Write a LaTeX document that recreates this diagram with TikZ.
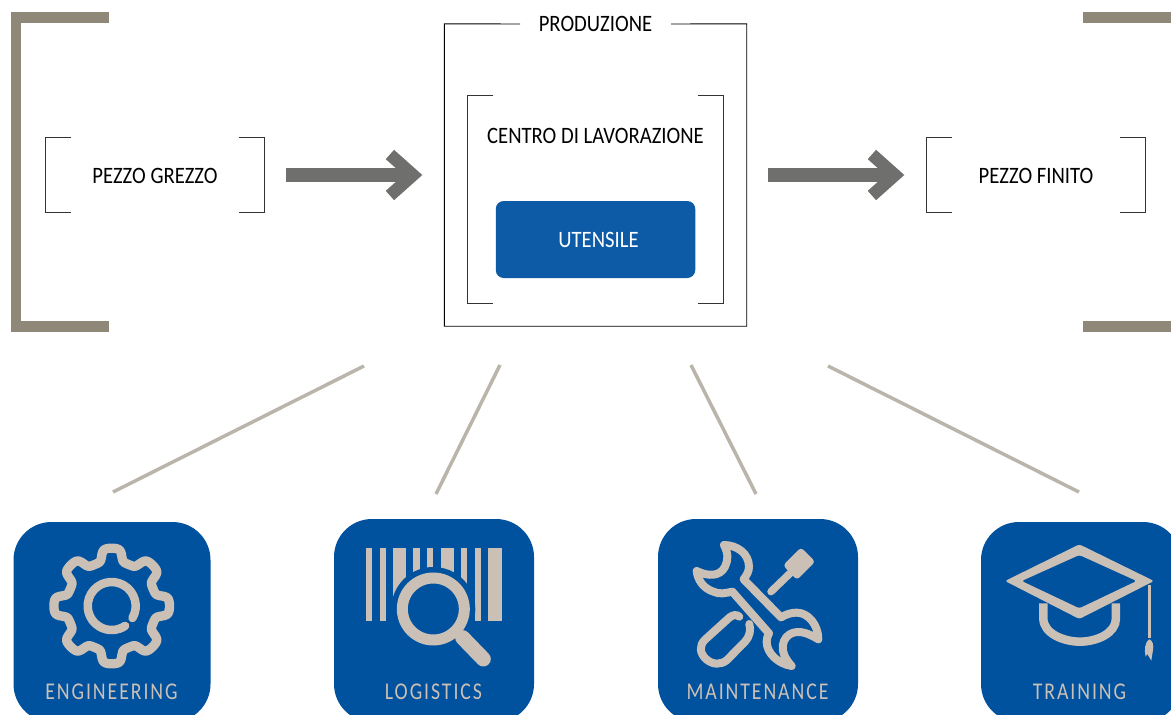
\documentclass[tikz,border=0pt]{standalone}
\usepackage{fontspec}
\setmainfont[FakeStretch=0.88]{Carlito}
\newfontfamily\tilefont[FakeStretch=0.825,LetterSpace=8]{Carlito}
\usetikzlibrary{arrows.meta}
\definecolor{tileblue}{HTML}{00519E}
\definecolor{toolblue}{HTML}{0D5AA7}
\definecolor{icon}{HTML}{CBC0B6}
\definecolor{bracketc}{HTML}{8F8778}
\definecolor{linkc}{HTML}{B9B5AA}
\definecolor{arrowc}{HTML}{6F6F6E}
\tikzset{
  label/.style={inner sep=0pt,font=\fontsize{23.5}{26}\selectfont,text=black},
  frame/.style={minimum width=219pt,minimum height=74pt,inner sep=0pt},
  thinline/.style={draw=black!80,line width=0.8pt},
  heavy/.style={draw=bracketc,line width=10.5pt,line cap=butt,line join=miter},
  link/.style={draw=linkc,line width=3.5pt},
  flow/.style={draw=arrowc,line width=13.5pt,-{Straight Barb[length=23pt,width=41pt,line width=12.5pt]}},
  tile/.style={fill=tileblue,rounded corners=38pt,draw=none},
  tiletext/.style={inner sep=0pt,text=icon,font=\tilefont\fontsize{24}{26}\selectfont},
  ic/.style={draw=icon,line cap=round,line join=round},
}
\pgfmathdeclarefunction{gearr}{1}{\pgfmathparse{51.3+7.0*(2.5*cos(8*#1))/sqrt(1+(2.5*cos(8*#1))^2)}}
\begin{document}
\begin{tikzpicture}[x=1pt,y=-1pt]
\useasboundingbox (0,0) rectangle (1171,715);
\begin{scope}
\clip (0,0) rectangle (1171,715);
% heavy brackets
\draw[heavy] (109,17.3) -- (16.2,17.3) -- (16.2,326.7) -- (109,326.7);
\draw[heavy] (1083,17.3) -- (1171,17.3);
\draw[heavy] (1083,326.7) -- (1171,326.7);
% frames
\node[frame] (grezzo) at (155,175) {};
\node[frame] (finito) at (1036,175) {};
\node[label] (grezzolabel) at (155,176) {PEZZO GREZZO};
\node[label] (finitolabel) at (1036,176) {PEZZO FINITO};
\draw[thinline] ([xshift=26]grezzo.north west) -- (grezzo.north west) -- (grezzo.south west) -- ([xshift=26]grezzo.south west);
\draw[thinline] ([xshift=-26]grezzo.north east) -- (grezzo.north east) -- (grezzo.south east) -- ([xshift=-26]grezzo.south east);
\draw[thinline] ([xshift=26]finito.north west) -- (finito.north west) -- (finito.south west) -- ([xshift=26]finito.south west);
\draw[thinline] ([xshift=-26]finito.north east) -- (finito.north east) -- (finito.south east) -- ([xshift=-26]finito.south east);
% production
\node[minimum width=302pt,minimum height=302pt,inner sep=0pt] (prod) at (595.5,175) {};
\draw[draw=black,line width=0.9pt] (520,24) -- (prod.north west) -- (prod.south west) -- (prod.south east) -- (prod.north east) -- (671,24);
\node[label] (prodlabel) at (595.5,24) {PRODUZIONE};
\node[minimum width=256pt,minimum height=207pt,inner sep=0pt] (centro) at (595.6,199.5) {};
\draw[thinline] ([xshift=26]centro.north west) -- (centro.north west) -- (centro.south west) -- ([xshift=26]centro.south west);
\draw[thinline] ([xshift=-26]centro.north east) -- (centro.north east) -- (centro.south east) -- ([xshift=-26]centro.south east);
\node[label] (centrolabel) at (595.5,136) {CENTRO DI LAVORAZIONE};
\node[fill=toolblue,rounded corners=8pt,minimum width=199.5pt,minimum height=77pt,inner sep=0pt] (ut) at (595.5,239.5) {};
\node[label,text=white] (utlabel) at (598.5,240) {UTENSILE};
% flow arrows
\draw[flow] ([xshift=21]grezzo.east) -- ([xshift=-22]prod.west);
\draw[flow] ([xshift=21.5]prod.east) -- ([xshift=-22]finito.west);
% link lines
\coordinate (l1a) at (364,366); \coordinate (l1b) at (113,492);
\coordinate (l2a) at (500,365); \coordinate (l2b) at (436,494);
\coordinate (l3a) at (691,365); \coordinate (l3b) at (756,494);
\coordinate (l4a) at (828,366); \coordinate (l4b) at (1079,492);
\draw[link] (l1a) -- (l1b);
\draw[link] (l2a) -- (l2b);
\draw[link] (l3a) -- (l3b);
\draw[link] (l4a) -- (l4b);
% tiles
\path[tile] (13.5,522) rectangle (210.5,722);
\path[tile] (334,519) rectangle (534,722);
\path[tile] (658,519) rectangle (858,722);
\path[tile] (981,522) rectangle (1181,722);
\node[tiletext] (t1) at (111.5,691.5) {ENGINEERING};
\node[tiletext] (t2) at (433.5,691.5) {LOGISTICS};
\node[tiletext] (t3) at (757.5,691.5) {MAINTENANCE};
\node[tiletext] (t4) at (1079.5,691.5) {TRAINING};
% gear
\draw[ic,line width=9.3pt] plot[domain=0:360,samples=241,variable=\a] ({111.7+gearr(\a)*cos(\a)},{606-gearr(\a)*sin(\a)}) -- cycle;
\draw[ic,line width=8.5pt] ({111.7+24*cos(-30)},{606-24*sin(-30)}) arc[start angle=30,end angle=-304,radius=24];
% logistics
\begin{scope}[shift={(320,510)},x=0.3333pt,y=-0.3333pt]
\foreach \u/\v in {138/157,180/198,220/258,280/300,320/340,363/402,423/442,465/483,504/546}
  \fill[icon] (\u,113) rectangle (\v,332);
\fill[tileblue] (340,297) circle[radius=42pt];
\draw[icon,line width=11pt] (340,297) circle[radius=31pt];
\draw[ic,line width=15pt] (428,383) -- (490,447);
\end{scope}
% maintenance
\begin{scope}[shift={(645,510)},x=0.3333pt,y=-0.3333pt]
\draw[ic,line width=8pt] (237,105) .. controls (275,105) and (312,130) .. (312,170)
  .. controls (312,185) and (305,195) .. (296,208) -- (408,322)
  .. controls (425,312) and (440,308) .. (455,308)
  .. controls (490,308) and (520,345) .. (520,388)
  .. controls (490,370) and (465,360) .. (440,370)
  .. controls (415,380) and (395,420) .. (440,468)
  .. controls (400,462) and (365,430) .. (365,395)
  .. controls (365,385) and (368,378) .. (372,370) -- (262,245)
  .. controls (245,248) and (225,255) .. (205,245)
  .. controls (175,235) and (158,210) .. (155,183)
  .. controls (190,200) and (225,200) .. (240,170)
  .. controls (250,150) and (250,130) .. (237,105) -- cycle;
\draw[ic,line width=7.5pt] (378,245) -- (435,190);
\fill[icon,rounded corners=3.5pt] (468,112) -- (511,155) -- (456,210) -- (414,166) -- cycle;
\draw[ic,line width=8pt] (283,320) .. controls (276,313) and (264,314) .. (254,322) -- (179,390)
  .. controls (162,408) and (164,430) .. (184,448)
  .. controls (204,465) and (228,465) .. (246,450) -- (300,395)
  .. controls (315,380) and (318,358) .. (313,342);
\end{scope}
% training
\begin{scope}[shift={(970,510)},x=0.3333pt,y=-0.3333pt]
\fill[icon,even odd rule,rounded corners=2.5pt] (328,103) -- (552,213) -- (328,327) -- (105,213) -- cycle (328,135) -- (500,213) -- (328,295) -- (155,213) -- cycle;
\draw[icon,line width=8.5pt] (220,280) -- (220,325) .. controls (220,370) and (280,395) .. (330,395) .. controls (380,395) and (438,370) .. (438,325) -- (438,280);
\draw[icon,line width=3.4pt] (538,225) -- (538,385);
\fill[icon] (538,388) .. controls (525,395) and (522,420) .. (527,440) -- (532,432) -- (544,452) -- (549,420) .. controls (552,405) and (548,392) .. (538,388) -- cycle;
\end{scope}
\end{scope}
\end{tikzpicture}
\end{document}
